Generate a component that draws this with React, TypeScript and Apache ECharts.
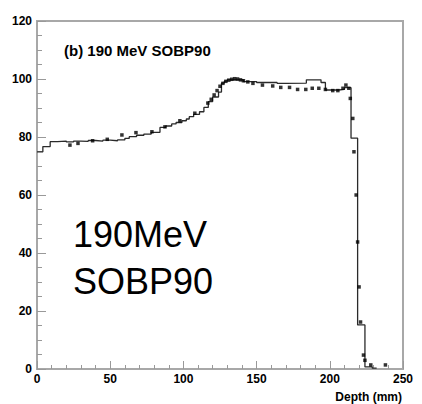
import React, { useEffect, useRef } from 'react';
import * as echarts from 'echarts';

// Simulated dose histogram: bin edges (mm) and bin values (%)
const histEdges = [0, 4, 9, 14, 20, 25, 30, 35, 40, 45, 50, 55, 60, 63, 68, 73, 78, 84, 88, 92, 95, 99, 102, 104, 107, 111, 114, 117, 120, 124, 126, 128, 130, 141, 150, 164, 170, 184, 194, 197, 206, 210, 214.5, 219, 224, 229, 232];
const histValues = [74.9, 76.7, 78.4, 78.6, 78.3, 78.6, 78.5, 78.8, 78.6, 78.9, 78.7, 79.0, 79.5, 80.1, 80.6, 81.0, 81.6, 83.3, 83.8, 84.5, 85.0, 85.6, 86.2, 87.0, 87.8, 88.7, 90.2, 92.2, 93.8, 95.5, 98.6, 99.3, 99.7, 99.1, 98.8, 98.5, 98.6, 99.7, 98.8, 96.2, 96.4, 97.0, 79.6, 15.2, 0.7, 0.3];

// Measured points
const pointDepths = [22.5, 28, 38, 48, 58, 67.6, 78.5, 87.4, 97.6, 107.8, 116.7, 119, 121, 123, 125, 127, 129, 131, 133, 135, 137, 139, 141, 144, 147.5, 154, 161, 166.5, 172.5, 178, 183.6, 188, 192.5, 197, 202, 205.5, 209, 211, 213, 214, 215.7, 216.5, 218, 219, 220, 221, 223, 224, 228, 238];
const pointValues = [77.2, 77.8, 78.7, 79.2, 80.7, 81.5, 81.8, 83.5, 85.6, 88.2, 91.7, 93.0, 94.5, 96.0, 97.5, 98.5, 99.2, 99.6, 99.9, 100.1, 100.0, 99.7, 99.4, 99.0, 98.5, 97.9, 97.6, 97.1, 97.1, 96.4, 96.4, 96.8, 96.8, 96.4, 96.0, 96.0, 96.8, 97.9, 96.8, 93.3, 86.4, 74.9, 60.0, 43.8, 28.3, 16.2, 4.8, 3.0, 1.4, 1.4];

const xTickValues = [0, 50, 100, 150, 200, 250];
const yTickValues = [0, 20, 40, 60, 80, 100, 120];

const titleText = '(b) 190 MeV SOBP90';
const bigLine1 = '190MeV';
const bigLine2 = 'SOBP90';
const xAxisTitle = 'Depth (mm)';

export default function App() {
  const ref = useRef<HTMLDivElement>(null);
  useEffect(() => {
    document.body.style.margin = '0';
    if (!ref.current) return;
    const chart = echarts.init(ref.current, null, { renderer: 'svg' });
    const histData = histEdges.map((e, i) => [e, histValues[Math.min(i, histValues.length - 1)]]);
    const pts = pointDepths.map((d, i) => [d, pointValues[i]]);
    const labelFont = {
      color: '#000',
      fontFamily: 'Liberation Sans, Arial, sans-serif',
      fontWeight: 'bold' as const,
      fontSize: 12,
    };
    const axisGray = '#a8a8a8';
    chart.setOption({
      animation: false,
      backgroundColor: '#fff',
      grid: {
        left: 37,
        right: 19,
        top: 21,
        bottom: 35,
        show: true,
        borderColor: axisGray,
        borderWidth: 2,
        containLabel: false,
      },
      xAxis: {
        type: 'value',
        min: xTickValues[0],
        max: xTickValues[xTickValues.length - 1],
        interval: 50,
        axisLine: { show: true, lineStyle: { color: axisGray, width: 2 } },
        axisTick: { show: true, inside: true, length: 8, lineStyle: { color: '#999', width: 1 } },
        minorTick: { show: true, splitNumber: 5, length: 4, lineStyle: { color: '#999', width: 1 } },
        splitLine: { show: false },
        axisLabel: { ...labelFont, margin: 4 },
      },
      yAxis: {
        type: 'value',
        min: yTickValues[0],
        max: yTickValues[yTickValues.length - 1],
        interval: 20,
        axisLine: { show: true, lineStyle: { color: axisGray, width: 2 } },
        axisTick: { show: true, inside: true, length: 9, lineStyle: { color: '#999', width: 1 } },
        minorTick: { show: true, splitNumber: 4, length: 5, lineStyle: { color: '#999', width: 1 } },
        splitLine: { show: false },
        axisLabel: { ...labelFont, margin: 5 },
      },
      series: [
        {
          type: 'line',
          step: 'end',
          data: histData,
          showSymbol: false,
          symbol: 'none',
          lineStyle: { color: '#2a2a2a', width: 1.3 },
          z: 2,
        },
        {
          type: 'scatter',
          data: pts,
          symbol: 'rect',
          symbolSize: 3.5,
          itemStyle: { color: '#000' },
          z: 3,
        },
      ],
      graphic: [
        {
          type: 'text',
          left: 64,
          top: 43,
          style: {
            text: titleText,
            fill: '#000',
            font: 'bold 15px "Liberation Sans", Arial, sans-serif',
          },
        },
        {
          type: 'text',
          x: 73,
          y: 234,
          style: {
            text: bigLine1,
            fill: '#000',
            font: '36px "Liberation Sans", Arial, sans-serif',
            textVerticalAlign: 'middle',
          },
        },
        {
          type: 'text',
          x: 73,
          y: 281,
          style: {
            text: bigLine2,
            fill: '#000',
            font: '36px "Liberation Sans", Arial, sans-serif',
            textVerticalAlign: 'middle',
          },
        },
        {
          type: 'text',
          x: 402,
          y: 397,
          style: {
            text: xAxisTitle,
            fill: '#000',
            font: 'bold 12px "Liberation Sans", Arial, sans-serif',
            textAlign: 'right',
            textVerticalAlign: 'middle',
          },
        },
      ],
    });
    return () => chart.dispose();
  }, []);
  return <div ref={ref} style={{ width: 422, height: 404 }} />;
}
